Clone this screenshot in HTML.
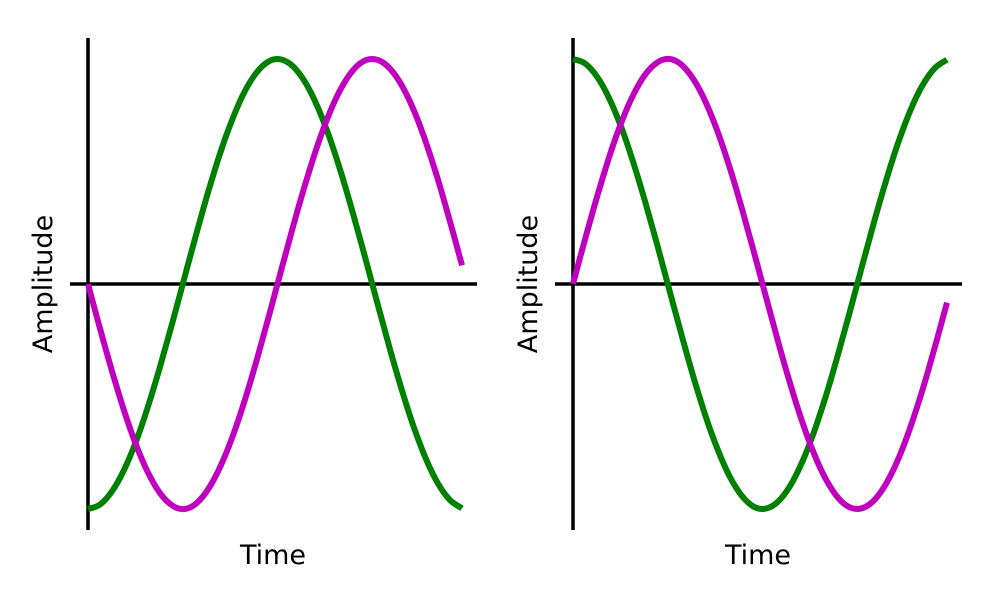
<!DOCTYPE html>
<html><head><meta charset="utf-8"><style>
html,body{margin:0;padding:0;background:#fff;}
svg{display:block;}
text{font-family:"DejaVu Sans","Liberation Sans",sans-serif;font-size:27px;fill:#000;}
</style></head><body>
<svg id="chart" width="1000" height="600"></svg>
<script>
const xValues=[0,0.2,0.4,0.6,0.8,1.0,1.2,1.4,1.6,1.8,2.0,2.2,2.4,2.6,2.8,3.0,3.2,3.4,3.6,3.8,4.0,4.2,4.4,4.6,4.8,5.0,5.2,5.4,5.6,5.8,6.0,6.2];
const leftGreen=[-1,-0.980,-0.921,-0.825,-0.697,-0.540,-0.362,-0.170,0.029,0.227,0.416,0.589,0.737,0.857,0.942,0.990,0.998,0.967,0.897,0.791,0.654,0.490,0.307,0.112,-0.087,-0.284,-0.469,-0.635,-0.776,-0.886,-0.960,-0.997];
const leftMagenta=[0,-0.199,-0.389,-0.565,-0.717,-0.841,-0.932,-0.985,-1.000,-0.974,-0.909,-0.808,-0.675,-0.516,-0.335,-0.141,0.058,0.256,0.443,0.612,0.757,0.872,0.952,0.994,0.996,0.959,0.883,0.773,0.631,0.465,0.279,0.083];
const rightGreen=[1,0.980,0.921,0.825,0.697,0.540,0.362,0.170,-0.029,-0.227,-0.416,-0.589,-0.737,-0.857,-0.942,-0.990,-0.998,-0.967,-0.897,-0.791,-0.654,-0.490,-0.307,-0.112,0.087,0.284,0.469,0.635,0.776,0.886,0.960,0.997];
const rightMagenta=[0,0.199,0.389,0.565,0.717,0.841,0.932,0.985,1.000,0.974,0.909,0.808,0.675,0.516,0.335,0.141,-0.058,-0.256,-0.443,-0.612,-0.757,-0.872,-0.952,-0.994,-0.996,-0.959,-0.883,-0.773,-0.631,-0.465,-0.279,-0.083];
const xLabel="Time", yLabel="Amplitude";

const svg=document.getElementById('chart');
const NS='http://www.w3.org/2000/svg';
function mk(tag,attrs){const e=document.createElementNS(NS,tag);for(const k in attrs)e.setAttribute(k,attrs[k]);svg.appendChild(e);return e;}
function smooth(p){
  let d='M'+p[0][0].toFixed(1)+','+p[0][1].toFixed(1);
  for(let i=0;i<p.length-1;i++){
    const p0=p[Math.max(0,i-1)],p1=p[i],p2=p[i+1],p3=p[Math.min(p.length-1,i+2)];
    const c1=[p1[0]+(p2[0]-p0[0])/6,p1[1]+(p2[1]-p0[1])/6];
    const c2=[p2[0]-(p3[0]-p1[0])/6,p2[1]-(p3[1]-p1[1])/6];
    d+=` C${c1[0].toFixed(1)},${c1[1].toFixed(1)} ${c2[0].toFixed(1)},${c2[1].toFixed(1)} ${p2[0].toFixed(1)},${p2[1].toFixed(1)}`;
  }
  return d;
}
function panel(ox,green,magenta,id){
  const xs=v=>ox+88+v*(374/6.2);
  const ys=v=>284-v*225;
  let e=mk('line',{x1:ox+70,y1:ys(0),x2:ox+477,y2:ys(0),stroke:'#000','stroke-width':3.5});
  
  
  e=mk('line',{x1:ox+88,y1:38,x2:ox+88,y2:530,stroke:'#000','stroke-width':3.5});
  
  
  [[green,'#008000','green-line'],[magenta,'#bf00bf','magenta-line']].forEach(([d,c,n])=>{
    const pts=xValues.map((x,i)=>[xs(x),ys(d[i])]);
    const p=mk('path',{d:smooth(pts),fill:'none',stroke:c,'stroke-width':6,'stroke-linejoin':'round'});
    
    
  });
  let t=mk('text',{x:ox+273,y:564,'text-anchor':'middle'});t.textContent=xLabel;
  
  
  t=mk('text',{x:0,y:0,'text-anchor':'middle',transform:`translate(${ox+52},284) rotate(-90)`});t.textContent=yLabel;
  
  
}
panel(0,leftGreen,leftMagenta,'left');
panel(485,rightGreen,rightMagenta,'right');
</script>
</body></html>
